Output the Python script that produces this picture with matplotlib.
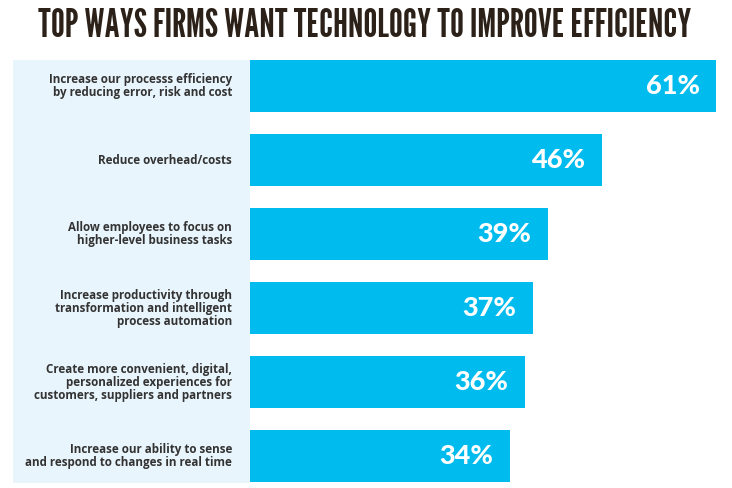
import matplotlib.pyplot as plt
from matplotlib.patches import Rectangle

# data
labels = [
    "Increase our processs efficiency\nby reducing error, risk and cost",
    "Reduce overhead/costs",
    "Allow employees to focus on\nhigher-level business tasks",
    "Increase productivity through\ntransformation and intelligent\nprocess automation",
    "Create more convenient, digital,\npersonalized experiences for\ncustomers, suppliers and partners",
    "Increase our ability to sense\nand respond to changes in real time",
]
values = [61, 46, 39, 37, 36, 34]
title = "TOP WAYS FIRMS WANT TECHNOLOGY TO IMPROVE EFFICIENCY"

W, H = 732, 488
fig = plt.figure(figsize=(W / 100, H / 100), dpi=100)
fig.patch.set_facecolor("white")

# light blue panel behind the category labels
fig.patches.append(Rectangle((13 / W, 1 - 483 / H), (250 - 13) / W, (483 - 60) / H,
                             transform=fig.transFigure, facecolor="#e9f5fc",
                             edgecolor="none", zorder=-5))

ax = fig.add_axes([250 / W, 1 - 493 / H, 474 / W, (493 - 49) / H])
ax.patch.set_alpha(0)
ypos = list(range(len(values)))
ax.barh(ypos, values, height=0.70, color="#00bcee", zorder=2)
ax.set_xlim(0, 62)
ax.set_ylim(5.5, -0.5)
ax.axis("off")

for i, (lab, v) in enumerate(zip(labels, values)):
    ax.annotate(lab, xy=(0, i), xycoords=ax.get_yaxis_transform(),
                xytext=(-13, 0), textcoords="offset points",
                ha="right", va="center", multialignment="right",
                fontsize=8.4, fontweight="bold", family="Open Sans",
                color="#333333", linespacing=1.0)
    ax.annotate(f"{v}%", xy=(v, i), xycoords="data",
                xytext=(-12, 0), textcoords="offset points",
                ha="right", va="center", fontsize=19.5, fontweight="black",
                family="Lato", color="white")

t = fig.text(365 / W, 1 - 26 / H, title, ha="center", va="center",
             fontsize=30, fontweight="bold",
             family=["League Gothic", "Oswald", "Barlow Condensed"],
             color="#2b2118")
# fit the title to the same width as in the reference
r = fig.canvas.get_renderer()
w = t.get_window_extent(r).width
t.set_fontsize(min(40, 30 * 654 / w))

fig.savefig("out.png", dpi=100)
